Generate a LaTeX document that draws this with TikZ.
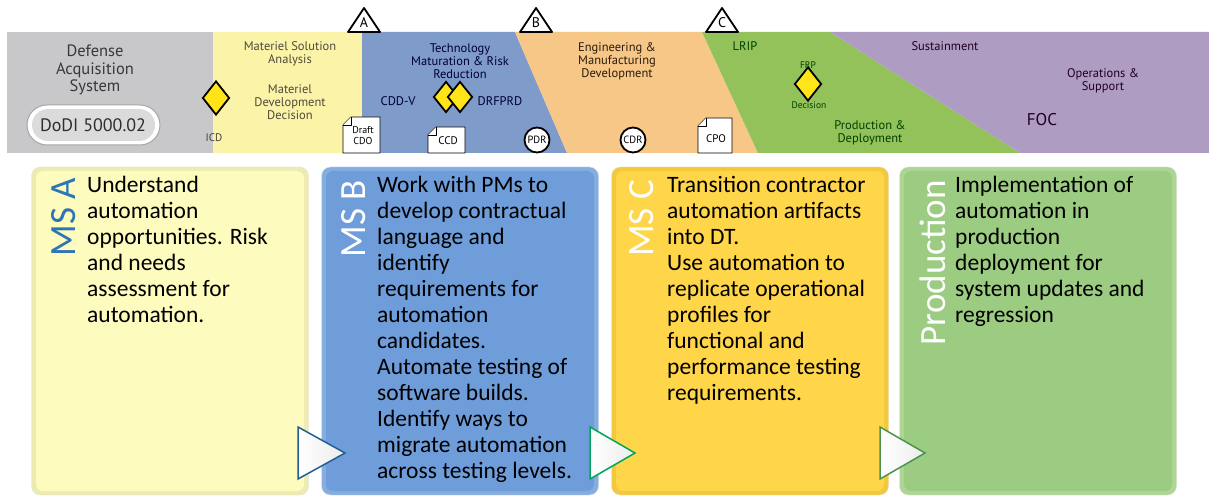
\documentclass[tikz,border=0pt]{standalone}
\usepackage{fontspec}
\setmainfont{Carlito}
\newfontfamily\bannerfont{PT Sans}
\usetikzlibrary{shapes.geometric}

\definecolor{phgrau}{HTML}{C8C8CA}
\definecolor{phgelb}{HTML}{FAF3A8}
\definecolor{phblau}{HTML}{7F9BC9}
\definecolor{phorange}{HTML}{F7C787}
\definecolor{phgruen}{HTML}{93C15A}
\definecolor{phlila}{HTML}{AF9CC3}
\definecolor{kdgelb}{HTML}{FFE419}
\definecolor{boxgelb}{HTML}{FDFBBE}
\definecolor{randgelb}{HTML}{EEEBB0}
\definecolor{boxblau}{HTML}{6E9DDA}
\definecolor{randblau}{HTML}{84ADE0}
\definecolor{boxgold}{HTML}{FFD54A}
\definecolor{randgold}{HTML}{F3C83C}
\definecolor{boxgruen}{HTML}{9CCB82}
\definecolor{randgruen}{HTML}{ADD695}
\definecolor{msblau}{HTML}{2E75B6}

\begin{document}
\begin{tikzpicture}[x=1pt,y=-1pt,
	phase/.style={font=\bannerfont\fontsize{12.5}{13}\selectfont, align=center, inner sep=0pt},
	klein/.style={font=\bannerfont\fontsize{10}{11}\selectfont, align=center, inner sep=0pt},
	raute/.style={diamond, draw=black, fill=kdgelb, line width=1.8pt, minimum width=27pt, minimum height=34pt, inner sep=0pt},
	review/.style={circle, draw=black, fill=white, line width=1.8pt, minimum size=25pt, inner sep=0pt, font=\bannerfont\fontsize{10.5}{10}\selectfont},
	dok/.style={draw=black, fill=white, line width=0.9pt, line join=round},
	dreieck/.style={draw=black, fill=white, line width=1.8pt, line join=round},
	msbox/.style={rounded corners=9pt, minimum width=277pt, minimum height=328pt, inner sep=0pt},
	mstitel/.style={rotate=90, anchor=base east, inner sep=0pt, font=\fontsize{37}{37}\selectfont},
	mstext/.style={anchor=base west, align=left, inner sep=0pt, font=\fontsize{23.5}{26}\selectfont},
	pfeil/.style={line width=1.5pt, left color=white, right color=white!85!gray, line join=miter}
]
	%Hintergrund
	\useasboundingbox (0,0) rectangle (1209,497);
	\fill [white] (0,0) rectangle (1209,497);
	% Phasenband
	\fill [phgrau] (7,32) rectangle (213,153);
	\fill [phgelb] (213,32) rectangle (362,153);
	\fill [phblau] (362,32) -- (515,32) -- (567,153) -- (362,153) -- cycle;
	\fill [phorange] (515,32) -- (702,32) -- (758,153) -- (567,153) -- cycle;
	\fill [phgruen] (702,32) -- (830,32) -- (1020,153) -- (758,153) -- cycle;
	\fill [phlila] (830,32) -- (1209,32) -- (1209,153) -- (1020,153) -- cycle;
	% Meilensteine
	\draw [dreieck] (348,32) -- (364,8) -- (380,32) -- cycle;
	\node [phase, font=\bannerfont\fontsize{14}{14}\selectfont] (msA) at (364,23) {A};
	\draw [dreieck] (520,32) -- (536,8) -- (552,32) -- cycle;
	\node [phase, font=\bannerfont\fontsize{14}{14}\selectfont] (msB) at (536,23) {B};
	\draw [dreieck] (706,32) -- (722,8) -- (738,32) -- cycle;
	\node [phase, font=\bannerfont\fontsize{14}{14}\selectfont] (msC) at (722,23) {C};
	% DAS
	\node [phase, text=black!78, font=\bannerfont\fontsize{16.5}{17.5}\selectfont] (das) at (95,70) {Defense\\Acquisition\\System};
	\fill [white, rounded corners=20pt] (27,105) rectangle (160,145);
	\draw [gray!70, line width=1pt, rounded corners=20pt] (27,105) rectangle (160,145);
	\fill [black!14, rounded corners=16pt] (32,109) rectangle (155,141);
	\node [phase, text=black!82, font=\bannerfont\fontsize{18}{18}\selectfont] (dodi) at (93,125) {DoDI 5000.02};
	% MSA
	\node [raute] (icd) at (216,98) {};
	\node [phase, text=black!75, font=\bannerfont\fontsize{11}{11}\selectfont] (icdlbl) at (214,138) {ICD};
	\node [phase, text=black!80!yellow] (msa) at (290,54) {Materiel Solution\\Analysis};
	\node [phase, text=black!80!yellow] (mdd) at (290,102) {Materiel\\Development\\Decision};
	\draw [dok] (351,117) -- (380,117) -- (380,153) -- (343,153) -- (343,125) -- cycle;
	\draw [dok] (343,125) -- (351,125) -- (351,117);
	\node [klein] (cdo) at (363,136) {Draft\\CDO};
	% TMRR
	\node [phase, text=black!80!blue] (tmrr) at (460,61) {Technology\\Maturation \& Risk\\Reduction};
	\node [phase, text=black!80!blue] (cddv) at (398,101) {CDD-V};
	\node [raute, minimum width=25pt, minimum height=31pt] (rautea) at (446,97) {};
	\node [raute, minimum width=25pt, minimum height=31pt] (rauteb) at (460,97) {};
	\node [phase, text=black!80!blue] (drfprd) at (500,101) {DRFPRD};
	\draw [dok] (436,127) -- (465,127) -- (465,153) -- (428,153) -- (428,135) -- cycle;
	\draw [dok] (428,135) -- (436,135) -- (436,127);
	\node [klein, font=\bannerfont\fontsize{11}{11}\selectfont] (ccd) at (448,141) {CCD};
	\node [review] (pdr) at (537,140) {PDR};
	% EMD
	\node [phase, text=black!78!brown] (emd) at (617,61) {Engineering \&\\Manufacturing\\Development};
	\node [review] (cdr) at (633,140) {CDR};
	\draw [dok] (706,118) -- (732,118) -- (732,153) -- (698,153) -- (698,126) -- cycle;
	\draw [dok] (698,126) -- (706,126) -- (706,118);
	\node [klein, font=\bannerfont\fontsize{11}{11}\selectfont] (cpo) at (716,139) {CPO};
	% P&D
	\node [phase, text=black!75!green] (lrip) at (745,46) {LRIP};
	\node [raute] (frp) at (808,84) {};
	\node [klein, text=black!75!green, font=\bannerfont\fontsize{9.5}{9}\selectfont] (frplbl) at (808,65) {FRP};
	\node [klein, text=black!75!green, font=\bannerfont\fontsize{9.5}{9}\selectfont] (frpdec) at (809,105) {Decision};
	\node [phase, text=black!75!green] (pd) at (870,133) {Production \&\\Deployment};
	% O&S
	\node [phase, text=black!75!violet] (sust) at (945,46) {Sustainment};
	\node [phase, text=black!75!violet] (os) at (1103,81) {Operations \&\\Support};
	\node [phase, text=black!75!violet, font=\bannerfont\fontsize{17}{17}\selectfont] (foc) at (1042,120) {FOC};
	% Kaesten
	\node [msbox, fill=randgelb, draw=black!12] (boxA) at (170,331) {};
	\fill [boxgelb, rounded corners=7pt] (36,171) rectangle (304,491);
	\node [msbox, fill=randblau, draw=black!12] (boxB) at (460,331) {};
	\fill [boxblau, rounded corners=7pt] (326,171) rectangle (594,491);
	\node [msbox, fill=randgold, draw=black!12] (boxC) at (750,331) {};
	\fill [boxgold, rounded corners=7pt] (616,171) rectangle (884,491);
	\node [msbox, fill=randgruen, draw=black!12] (boxD) at (1038,331) {};
	\fill [boxgruen, rounded corners=7pt] (904,171) rectangle (1172,491);
	% Pfeile
	\draw [pfeil, draw=msblau!80!black] (298,427) -- (345,453) -- (298,479) -- cycle;
	\draw [pfeil, draw=teal!70!green] (590,427) -- (635,453) -- (590,479) -- cycle;
	\draw [pfeil, draw=green!40!black!70] (880,427) -- (925,453) -- (880,479) -- cycle;
	% Titel
	\node [mstitel, text=msblau] (titA) at (75,178) {MS A};
	\node [mstitel, text=white] (titB) at (365,180) {MS B};
	\node [mstitel, text=white] (titC) at (653,180) {MS C};
	\node [mstitel, text=white] (titD) at (945,180) {Production};
	% Texte (base = letzte Zeile)
	\node [mstext] (txtA) at (87,322) {Understand\\automation\\opportunities. Risk\\and needs\\assessment for\\automation.};
	\node [mstext] (txtB) at (377,478) {Work with PMs to\\develop contractual\\language and\\identify\\requirements for\\automation\\candidates.\\Automate testing of\\software builds.\\Identify ways to\\migrate automation\\across testing levels.};
	\node [mstext] (txtC) at (667,400) {Transition contractor\\automation artifacts\\into DT.\\Use automation to\\replicate operational\\profiles for\\functional and\\performance testing\\requirements.};
	\node [mstext] (txtD) at (955,322) {Implementation of\\automation in\\production\\deployment for\\system updates and\\regression};
\end{tikzpicture}
\end{document}
